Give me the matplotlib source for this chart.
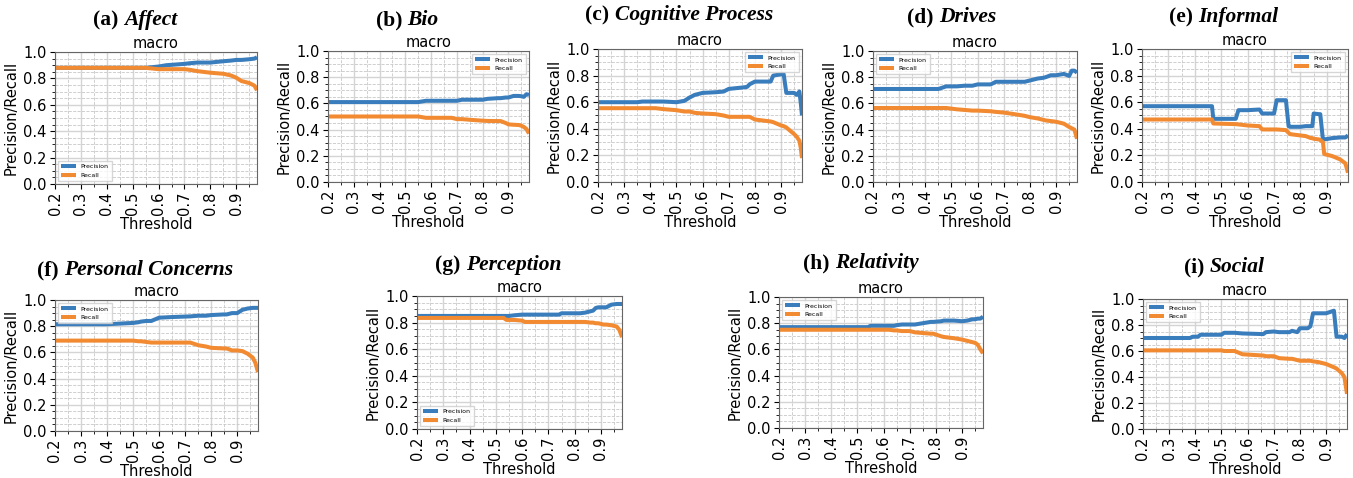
#!/usr/bin/env python3
# -*- coding: utf-8 -*-
"""
Precision / Recall vs threshold for 9 categories (macro).
"""

import matplotlib
matplotlib.use("Agg")
import matplotlib.pyplot as plt
from matplotlib.ticker import MultipleLocator, FormatStrFormatter

# ==== data ====
AFFECT_X = [0.20, 0.55, 0.60, 0.63, 0.70, 0.72, 0.75, 0.80, 0.85, 0.88, 0.90, 0.92, 0.95, 0.97, 0.98]
AFFECT_P = [0.88, 0.88, 0.89, 0.90, 0.91, 0.915, 0.92, 0.92, 0.93, 0.935, 0.94, 0.94, 0.945, 0.95, 0.96]
AFFECT_R = [0.88, 0.88, 0.87, 0.87, 0.87, 0.865, 0.855, 0.843, 0.835, 0.822, 0.805, 0.78, 0.765, 0.745, 0.71]

BIO_X = [0.20, 0.55, 0.58, 0.68, 0.70, 0.72, 0.75, 0.80, 0.82, 0.86, 0.87, 0.89, 0.90, 0.92, 0.94, 0.95, 0.96, 0.97, 0.98]
BIO_P = [0.61, 0.61, 0.62, 0.62, 0.62, 0.628, 0.628, 0.628, 0.635, 0.64, 0.64, 0.645, 0.645, 0.657, 0.657, 0.655, 0.65, 0.67, 0.665]
BIO_R = [0.50, 0.50, 0.49, 0.49, 0.48, 0.48, 0.475, 0.468, 0.466, 0.465, 0.465, 0.45, 0.44, 0.437, 0.435, 0.43, 0.42, 0.405, 0.37]

COG_X = [0.20, 0.35, 0.37, 0.42, 0.45, 0.50, 0.53, 0.55, 0.57, 0.60, 0.65, 0.68, 0.70, 0.75, 0.77,
         0.78, 0.80, 0.86, 0.87, 0.90, 0.91, 0.92, 0.95, 0.96, 0.97, 0.975, 0.98]
COG_P = [0.60, 0.60, 0.605, 0.605, 0.605, 0.60, 0.61, 0.635, 0.655, 0.67, 0.675, 0.68, 0.70, 0.71, 0.715,
         0.735, 0.755, 0.755, 0.80, 0.81, 0.81, 0.67, 0.67, 0.655, 0.68, 0.60, 0.50]
COG_R = [0.555, 0.555, 0.555, 0.555, 0.548, 0.54, 0.53, 0.53, 0.52, 0.515, 0.51, 0.50, 0.49, 0.49, 0.49,
         0.49, 0.47, 0.455, 0.45, 0.425, 0.42, 0.41, 0.36, 0.34, 0.31, 0.26, 0.18]

DRIVES_X = [0.20, 0.45, 0.48, 0.52, 0.55, 0.58, 0.60, 0.65, 0.67, 0.70, 0.75, 0.78, 0.80, 0.83, 0.85,
            0.86, 0.88, 0.90, 0.93, 0.95, 0.96, 0.97, 0.98]
DRIVES_P = [0.71, 0.71, 0.73, 0.73, 0.735, 0.735, 0.745, 0.745, 0.765, 0.765, 0.765, 0.765, 0.775, 0.79, 0.795,
            0.80, 0.815, 0.815, 0.825, 0.81, 0.85, 0.85, 0.835]
DRIVES_R = [0.565, 0.565, 0.565, 0.555, 0.55, 0.545, 0.545, 0.54, 0.535, 0.53, 0.515, 0.505, 0.495, 0.485, 0.475,
            0.47, 0.465, 0.46, 0.445, 0.42, 0.41, 0.40, 0.33]

INFORMAL_X = [0.20, 0.465, 0.47, 0.555, 0.565, 0.60, 0.645, 0.655, 0.70, 0.71, 0.745, 0.755, 0.76, 0.80,
              0.82, 0.84, 0.845, 0.85, 0.87, 0.875, 0.885, 0.89, 0.92, 0.95, 0.97, 0.98]
INFORMAL_P = [0.57, 0.57, 0.475, 0.475, 0.54, 0.54, 0.545, 0.515, 0.515, 0.615, 0.615, 0.42, 0.415, 0.415,
              0.42, 0.42, 0.42, 0.515, 0.51, 0.51, 0.32, 0.32, 0.33, 0.335, 0.335, 0.35]
INFORMAL_R = [0.47, 0.47, 0.44, 0.435, 0.433, 0.425, 0.42, 0.395, 0.395, 0.395, 0.39, 0.37, 0.36, 0.35,
              0.345, 0.33, 0.33, 0.325, 0.32, 0.315, 0.30, 0.21, 0.195, 0.17, 0.14, 0.07]

PERSONAL_X = [0.20, 0.40, 0.45, 0.50, 0.52, 0.53, 0.55, 0.57, 0.60, 0.65, 0.72, 0.75, 0.78, 0.80, 0.85,
              0.86, 0.88, 0.90, 0.92, 0.94, 0.96, 0.97, 0.98]
PERSONAL_P = [0.815, 0.815, 0.82, 0.825, 0.83, 0.835, 0.84, 0.84, 0.865, 0.87, 0.875, 0.88, 0.88, 0.885, 0.89,
              0.89, 0.90, 0.90, 0.925, 0.935, 0.94, 0.94, 0.94]
PERSONAL_R = [0.69, 0.69, 0.69, 0.69, 0.685, 0.685, 0.68, 0.675, 0.675, 0.675, 0.675, 0.655, 0.645, 0.635, 0.63,
              0.63, 0.615, 0.615, 0.61, 0.59, 0.56, 0.52, 0.45]

PERCEPTION_X = [0.20, 0.53, 0.54, 0.55, 0.57, 0.60, 0.61, 0.74, 0.75, 0.82, 0.84, 0.86, 0.87, 0.88, 0.89,
                0.91, 0.92, 0.94, 0.96, 0.97, 0.98]
PERCEPTION_P = [0.85, 0.85, 0.85, 0.85, 0.855, 0.86, 0.86, 0.86, 0.87, 0.87, 0.875, 0.885, 0.89, 0.91, 0.915,
                0.915, 0.915, 0.935, 0.94, 0.94, 0.94]
PERCEPTION_R = [0.835, 0.835, 0.82, 0.82, 0.82, 0.815, 0.805, 0.805, 0.805, 0.805, 0.805, 0.80, 0.80, 0.795, 0.795,
                0.785, 0.785, 0.78, 0.77, 0.745, 0.69]

RELATIVITY_X = [0.20, 0.54, 0.55, 0.62, 0.64, 0.65, 0.67, 0.70, 0.72, 0.75, 0.78, 0.79, 0.82, 0.83, 0.85,
                0.87, 0.90, 0.92, 0.93, 0.94, 0.95, 0.96, 0.97, 0.98]
RELATIVITY_P = [0.77, 0.77, 0.78, 0.78, 0.78, 0.785, 0.79, 0.79, 0.79, 0.80, 0.81, 0.81, 0.815, 0.82, 0.82,
                0.82, 0.815, 0.82, 0.825, 0.83, 0.83, 0.835, 0.835, 0.85]
RELATIVITY_R = [0.75, 0.75, 0.75, 0.75, 0.745, 0.745, 0.74, 0.74, 0.73, 0.725, 0.72, 0.72, 0.70, 0.695, 0.69,
                0.685, 0.675, 0.665, 0.66, 0.655, 0.65, 0.635, 0.60, 0.57]

SOCIAL_X = [0.20, 0.38, 0.39, 0.41, 0.42, 0.50, 0.51, 0.55, 0.58, 0.66, 0.67, 0.70, 0.72, 0.76, 0.77,
            0.79, 0.80, 0.83, 0.84, 0.85, 0.87, 0.90, 0.93, 0.94, 0.96, 0.97, 0.98]
SOCIAL_P = [0.70, 0.70, 0.71, 0.71, 0.725, 0.725, 0.74, 0.74, 0.735, 0.73, 0.745, 0.75, 0.745, 0.745, 0.755,
            0.745, 0.775, 0.775, 0.79, 0.89, 0.89, 0.89, 0.91, 0.71, 0.71, 0.70, 0.73]
SOCIAL_R = [0.605, 0.605, 0.605, 0.605, 0.605, 0.605, 0.60, 0.60, 0.575, 0.565, 0.56, 0.56, 0.545, 0.54, 0.54,
            0.53, 0.525, 0.525, 0.525, 0.52, 0.515, 0.50, 0.475, 0.465, 0.43, 0.40, 0.27]

TAGS = ["(a)", "(b)", "(c)", "(d)", "(e)", "(f)", "(g)", "(h)", "(i)"]
NAMES = ["Affect", "Bio", "Cognitive Process", "Drives", "Informal",
         "Personal Concerns", "Perception", "Relativity", "Social"]
SERIES = [
    (AFFECT_X, AFFECT_P, AFFECT_R),
    (BIO_X, BIO_P, BIO_R),
    (COG_X, COG_P, COG_R),
    (DRIVES_X, DRIVES_P, DRIVES_R),
    (INFORMAL_X, INFORMAL_P, INFORMAL_R),
    (PERSONAL_X, PERSONAL_P, PERSONAL_R),
    (PERCEPTION_X, PERCEPTION_P, PERCEPTION_R),
    (RELATIVITY_X, RELATIVITY_P, RELATIVITY_R),
    (SOCIAL_X, SOCIAL_P, SOCIAL_R),
]
LEGEND_LOC = ["lower left", "upper right", "upper right", "upper left", "upper right",
              "upper left", "lower left", "upper left", "upper left"]

# ==== layout (pixels in a 1353x478 canvas) ====
W, H = 1353, 478
AX_BOX = [  # left, right, top, bottom
    (55, 257, 52, 184), (328, 529, 51, 182), (598, 802, 49, 182),
    (873, 1077, 51, 182), (1142, 1348, 49, 182),
    (55, 258, 300, 431), (417, 622, 296, 429), (779, 983, 297, 428),
    (1143, 1347, 299, 429),
]
TITLE_POS = [  # center x, baseline y
    (135, 25), (407, 25), (679, 20), (952, 22), (1224, 22),
    (135, 275), (498, 270), (861, 268), (1224, 272),
]

C_PREC = "#3a7dbd"
C_REC = "#f28a32"
SERIF = "Liberation Serif"


def main() -> None:
    fig = plt.figure(figsize=(W / 100, H / 100), dpi=100)

    titles = []
    for i, (x, p, r) in enumerate(SERIES):
        l, rgt, t, b = AX_BOX[i]
        ax = fig.add_axes([l / W, 1 - b / H, (rgt - l) / W, (b - t) / H])
        ax.plot(x, p, color=C_PREC, lw=2.9, label="Precision", solid_capstyle="butt")
        ax.plot(x, r, color=C_REC, lw=2.9, label="Recall", solid_capstyle="butt")

        ax.set_xlim(0.2, 0.98)
        ax.set_ylim(0.0, 1.0)
        ax.xaxis.set_major_locator(MultipleLocator(0.1))
        ax.xaxis.set_minor_locator(MultipleLocator(0.05))
        ax.yaxis.set_major_locator(MultipleLocator(0.2))
        ax.yaxis.set_minor_locator(MultipleLocator(0.05))
        ax.xaxis.set_major_formatter(FormatStrFormatter("%.1f"))
        ax.yaxis.set_major_formatter(FormatStrFormatter("%.1f"))
        ax.tick_params(axis="x", labelrotation=90, labelsize=10.5, pad=2)
        ax.tick_params(axis="y", labelsize=10.5, pad=2.5)
        ax.tick_params(which="minor", length=2)
        ax.grid(which="major", color="#d4d4d4", linestyle="-", linewidth=1.0)
        ax.grid(which="minor", color="#c8c8c8", linestyle="--", linewidth=0.6)
        ax.set_axisbelow(True)
        for sp in ax.spines.values():
            sp.set_color("#666666")

        ax.set_title("macro", fontsize=10.5, pad=3)
        ax.set_xlabel("Threshold", fontsize=10.5, labelpad=1.5)
        ax.set_ylabel("Precision/Recall", fontsize=10.5, labelpad=3)
        ax.legend(loc=LEGEND_LOC[i], fontsize=4.5, handlelength=2.3,
                  borderpad=0.5, labelspacing=0.5, fancybox=False)

        cx, by = TITLE_POS[i]
        t1 = fig.text(cx / W, 1 - by / H, TAGS[i] + " ", family=SERIF,
                      weight="bold", fontsize=15.5, va="baseline")
        t2 = fig.text(cx / W, 1 - by / H, NAMES[i], family=SERIF,
                      weight="bold", style="italic", fontsize=15.5, va="baseline")
        titles.append((cx, t1, t2))

    # place "(x) " and the italic name side by side, centred on cx
    fig.canvas.draw()
    rend = fig.canvas.get_renderer()
    for cx, t1, t2 in titles:
        w1 = t1.get_window_extent(rend).width
        w2 = t2.get_window_extent(rend).width
        x0 = cx - (w1 + w2) / 2
        t1.set_x(x0 / W)
        t2.set_x((x0 + w1) / W)

    fig.savefig("out.png", dpi=100)


if __name__ == "__main__":
    main()
